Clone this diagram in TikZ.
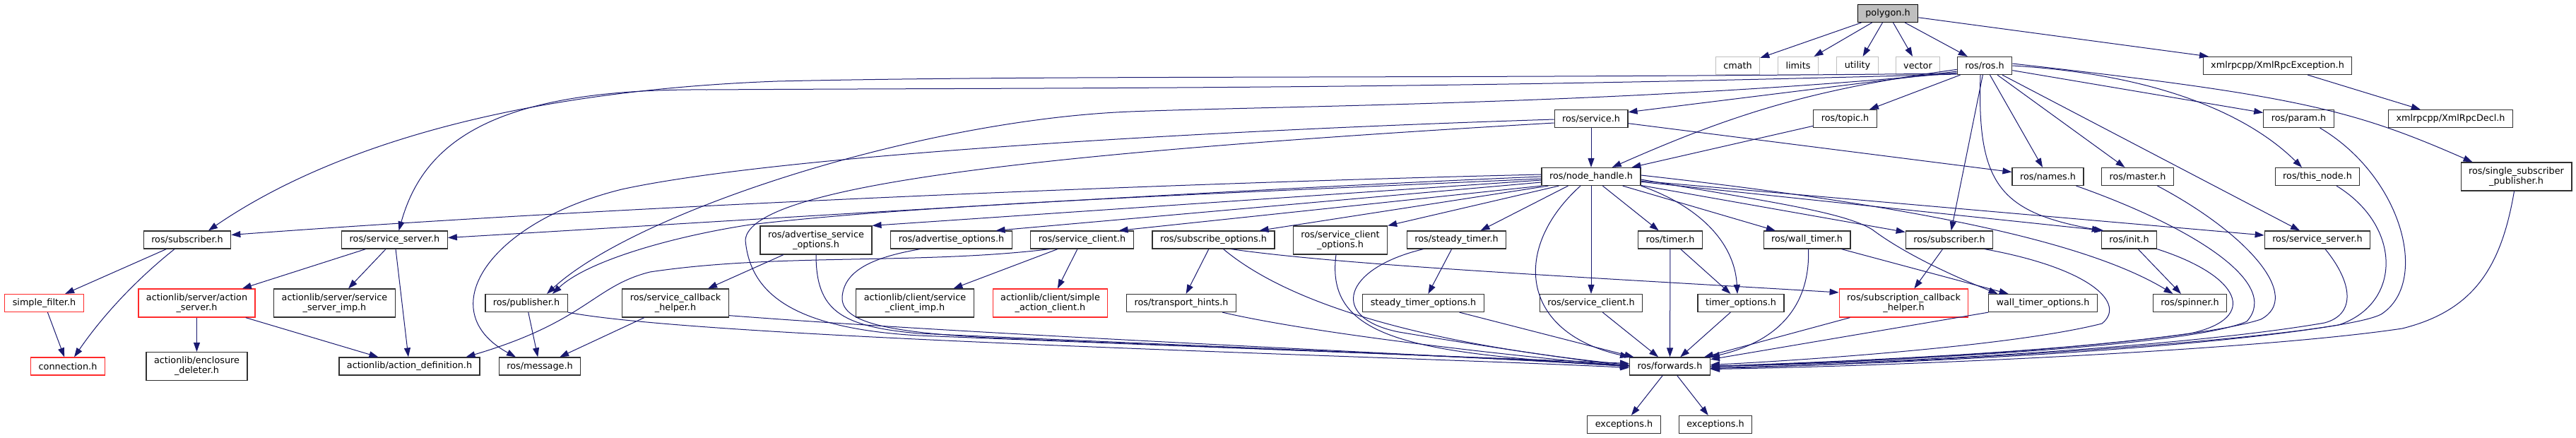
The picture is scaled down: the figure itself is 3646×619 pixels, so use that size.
\documentclass[tikz,border=0pt]{standalone}
\usepackage{fontspec}
\setmainfont{DejaVu Sans}
\usepackage{tikz}
\usetikzlibrary{arrows.meta}
\definecolor{edgeblue}{HTML}{191970}
\definecolor{boxline}{HTML}{303030}
\definecolor{missred}{HTML}{FF2A2A}
\colorlet{sysline}{black!25}

\begin{document}
\begin{tikzpicture}[x=1pt, y=-1pt,
    hdr/.style={draw=boxline, line width=1.2pt, fill=white, inner xsep=11pt, inner ysep=0pt,
      minimum height=25pt, align=center, font=\fontsize{12.8}{14}\selectfont},
    hdr2/.style={hdr, minimum height=40pt},
    sys/.style={hdr, draw=sysline},
    miss/.style={hdr, draw=missred},
    root/.style={hdr, draw=black, fill=black!25},
    inc/.style={-{Triangle[length=13pt,width=9pt]}, edgeblue, line width=1pt}]
    \fill[white] (0,0) rectangle (3646,619);
    \useasboundingbox (0,0) rectangle (3646,619);

    % top rows
    \node[root] (poly) at (2672,19) {polygon.h};
    \node[sys] (cmath) at (2459.5,93) {cmath};
    \node[sys] (limits) at (2545,93) {limits};
    \node[sys] (utility) at (2629,93) {utility};
    \node[sys] (vector) at (2714.5,93) {vector};
    \node[hdr] (ros) at (2809,93) {ros/ros.h};
    \node[hdr] (xrexc) at (3223.5,93) {xmlrpcpp/XmlRpcException.h};
    \node[hdr] (srv) at (2252,168) {ros/service.h};
    \node[hdr] (topic) at (2611.5,168) {ros/topic.h};
    \node[hdr] (param) at (3253.5,168) {ros/param.h};
    \node[hdr] (xrdecl) at (3468.5,168) {xmlrpcpp/XmlRpcDecl.h};
    \node[hdr] (nh) at (2252,250) {ros/node\_handle.h};
    \node[hdr] (names) at (2898.5,250) {ros/names.h};
    \node[hdr] (master) at (3025.5,250) {ros/master.h};
    \node[hdr] (thisnode) at (3280,250) {ros/this\_node.h};
    \node[hdr2] (ssp) at (3561.5,250) {ros/single\_subscriber\\\_publisher.h};

    % middle row
    \node[hdr] (subL) at (265,339.5) {ros/subscriber.h};
    \node[hdr] (ssL) at (558.5,339.5) {ros/service\_server.h};
    \node[hdr2] (aso) at (1155,340) {ros/advertise\_service\\\_options.h};
    \node[hdr] (ao) at (1346.5,339.5) {ros/advertise\_options.h};
    \node[hdr] (scU) at (1531.5,339.5) {ros/service\_client.h};
    \node[hdr] (so) at (1717.5,339.5) {ros/subscribe\_options.h};
    \node[hdr2] (sco) at (1897,340) {ros/service\_client\\\_options.h};
    \node[hdr] (st) at (2061.5,339.5) {ros/steady\_timer.h};
    \node[hdr] (timer) at (2364,339.5) {ros/timer.h};
    \node[hdr] (wt) at (2557.5,339.5) {ros/wall\_timer.h};
    \node[hdr] (subR) at (2759,339.5) {ros/subscriber.h};
    \node[hdr] (init) at (3013.5,339.5) {ros/init.h};
    \node[hdr] (ssR) at (3280,339.5) {ros/service\_server.h};

    % lower rows
    \node[miss] (sf) at (62.5,429) {simple\_filter.h};
    \node[miss, minimum height=40pt] (as) at (278.5,429) {actionlib/server/action\\\_server.h};
    \node[hdr2] (ssimp) at (473.5,429) {actionlib/server/service\\\_server\_imp.h};
    \node[hdr] (pub) at (745,429) {ros/publisher.h};
    \node[hdr2] (sch) at (956,429) {ros/service\_callback\\\_helper.h};
    \node[hdr2] (csimp) at (1295,429) {actionlib/client/service\\\_client\_imp.h};
    \node[miss, minimum height=40pt] (sac) at (1486.5,429) {actionlib/client/simple\\\_action\_client.h};
    \node[hdr] (th) at (1672,429) {ros/transport\_hints.h};
    \node[hdr] (stmo) at (2014.5,429) {steady\_timer\_options.h};
    \node[hdr] (scL) at (2252,429) {ros/service\_client.h};
    \node[hdr] (tmo) at (2464,429) {timer\_options.h};
    \node[miss, minimum height=40pt] (sbch) at (2694.5,429) {ros/subscription\_callback\\\_helper.h};
    \node[hdr] (wtmo) at (2891.5,429) {wall\_timer\_options.h};
    \node[hdr] (spin) at (3099.5,429) {ros/spinner.h};
    \node[miss] (conn) at (96,518.5) {connection.h};
    \node[hdr2] (ed) at (278.5,518.5) {actionlib/enclosure\\\_deleter.h};
    \node[hdr] (ad) at (579.5,518.5) {actionlib/action\_definition.h};
    \node[hdr] (msg) at (764,518.5) {ros/message.h};
    \node[hdr] (fwd) at (2363.5,518.5) {ros/forwards.h};
    \node[hdr] (ex1) at (2298.5,601) {exceptions.h};
    \node[hdr] (ex2) at (2428,601) {exceptions.h};

    % polygon.h
    \draw[inc] (poly) -- (cmath);
    \draw[inc] (poly) -- (limits);
    \draw[inc] (poly) -- (utility);
    \draw[inc] (poly) -- (vector);
    \draw[inc] (poly) -- (ros);
    \draw[inc] (poly) -- (xrexc);
    \draw[inc] (xrexc) -- (xrdecl);

    % ros/ros.h
    \draw[inc] ([yshift=-11pt]ros.west) .. controls (2000,112) and (1500,106) .. (1100,115) .. controls (700,130) and (450,220) .. ([xshift=30pt]subL.north);
    \draw[inc] ([yshift=-12pt]ros.west) .. controls (2000,127) and (1500,124) .. (1000,127) .. controls (700,125) and (600,200) .. ([xshift=6pt]ssL.north);
    \draw[inc] ([yshift=-10pt]ros.west) .. controls (2300,148) and (1800,150) .. (1600,158) .. controls (1300,170) and (900,300) .. ([xshift=29pt]pub.north);
    \draw[inc] ([yshift=-8pt]ros.west) -- (srv.10);
    \draw[inc] (ros) to[bend right=8] (nh);
    \draw[inc] (ros) -- (topic);
    \draw[inc] (ros) -- (names);
    \draw[inc] (ros) -- (master);
    \draw[inc] (ros) -- (subR);
    \draw[inc] ([xshift=-6pt]ros.south) .. controls (2798,260) and (2830,300) .. (init.north west);
    \draw[inc] (ros) -- (ssR);
    \draw[inc] (ros) -- (param);
    \draw[inc] (ros.east) .. controls (3050,105) and (3180,160) .. ([xshift=-22pt]thisnode.north);
    \draw[inc] ([yshift=3pt]ros.east) .. controls (3250,135) and (3330,155) .. ([xshift=-62pt]ssp.north);

    % ros/service.h and ros/topic.h
    \draw[inc] (srv) -- (nh);
    \draw[inc] (srv) -- (names);
    \draw[inc] (topic) -- (nh);
    \draw[inc] ([yshift=-1pt]srv.west) .. controls (1700,185) and (1100,220) .. (880,268) .. controls (690,315) and (610,440) .. ([xshift=-34pt]msg.north);
    \draw[inc] ([yshift=-6pt]srv.west) .. controls (1500,215) and (1060,260) .. (1055,340) .. controls (1062,420) and (1130,465) .. (1300,475) .. controls (1800,495) and (2150,508) .. ([yshift=4pt]fwd.west);

    % ros/node_handle.h
    \draw[inc] ([yshift=3pt]nh.west) .. controls (1700,258) and (900,290) .. ([yshift=7pt]subL.east);
    \draw[inc] (nh.west) .. controls (1700,270) and (1000,315) .. ([yshift=3pt]ssL.east);
    \draw[inc] ([yshift=-3pt]nh.west) .. controls (1700,275) and (1300,290) .. (1062,318) .. controls (950,335) and (830,370) .. ([xshift=37pt]pub.north);
    \draw[inc] ([yshift=-5pt]nh.west) -- (aso.north east);
    \draw[inc] ([yshift=-8pt]nh.west) -- ([xshift=63pt]ao.north);
    \draw[inc] (nh.south west) -- ([xshift=52pt]scU.north);
    \draw[inc] ([xshift=10pt]nh.south west) -- ([xshift=65pt]so.north);
    \draw[inc] ([xshift=25pt]nh.south west) -- (sco.north east);
    \draw[inc] ([xshift=38pt]nh.south west) -- ([xshift=34pt]st.north);
    \draw[inc] (nh) -- (scL);
    \draw[inc] ([xshift=-15pt]nh.south) .. controls (2140,350) and (2150,470) .. (fwd.north west);
    \draw[inc] (nh) -- (timer);
    \draw[inc] (nh.south east) .. controls (2400,290) and (2455,340) .. ([xshift=-5pt]tmo.north);
    \draw[inc] (nh) -- (wt);
    \draw[inc] (nh) -- (subR);
    \draw[inc] ([yshift=-4pt]nh.east) .. controls (2500,285) and (2610,300) .. (2650,325) .. controls (2690,355) and (2750,385) .. ([xshift=-64pt]wtmo.north);
    \draw[inc] (nh) -- (init.160);
    \draw[inc] (nh) -- (ssR);
    \draw[inc] ([yshift=2pt]nh.east) .. controls (2700,290) and (2950,340) .. ([xshift=-24pt]spin.north);

    % right part into ros/forwards.h
    \draw[inc] (subR) -- (sbch);
    \draw[inc] ([xshift=50pt]subR.south) .. controls (2960,380) and (3010,430) .. (2975,458) .. controls (2850,490) and (2550,510) .. ([yshift=2pt]fwd.east);
    \draw[inc] (wt) -- (wtmo);
    \draw[inc] ([xshift=2pt]wt.south) .. controls (2562,420) and (2530,480) .. (fwd.north east);
    \draw[inc] (timer) -- (tmo);
    \draw[inc] (timer) -- (fwd);
    \draw[inc] (tmo) -- (fwd);
    \draw[inc] (scL) -- (fwd);
    \draw[inc] (sbch) -- (fwd);
    \draw[inc] (wtmo) -- (fwd);
    \draw[inc] (init) -- (spin);
    \draw[inc] (init.south east) .. controls (3170,390) and (3200,450) .. (3100,472) .. controls (2900,500) and (2600,512) .. (fwd.east);
    \draw[inc] ([xshift=40pt]names.south) .. controls (3100,320) and (3230,400) .. (3180,455) .. controls (3100,490) and (2700,510) .. (fwd.east);
    \draw[inc] ([xshift=28pt]master.south) .. controls (3180,330) and (3260,420) .. (3200,452) .. controls (3100,485) and (2700,512) .. (fwd.east);
    \draw[inc] ([xshift=11pt]ssR.south) .. controls (3330,400) and (3335,445) .. (3290,457) .. controls (3100,490) and (2700,514) .. (fwd.east);
    \draw[inc] ([xshift=27pt]thisnode.south) .. controls (3400,320) and (3400,430) .. (3310,460) .. controls (3100,495) and (2700,515) .. ([yshift=-2pt]fwd.east);
    \draw[inc] ([xshift=30pt]param.south) .. controls (3400,250) and (3440,400) .. (3370,445) .. controls (3300,480) and (2700,515) .. ([yshift=-3pt]fwd.east);
    \draw[inc] ([xshift=-3pt]ssp.south) .. controls (3540,380) and (3500,440) .. (3400,465) .. controls (3200,495) and (2700,518) .. ([yshift=-4pt]fwd.east);

    % left part
    \draw[inc] (subL) -- (sf);
    \draw[inc] ([xshift=-18pt]subL.south) .. controls (200,390) and (150,440) .. ([xshift=9pt]conn.north);
    \draw[inc] (sf) -- (conn);
    \draw[inc] (ssL) -- (as);
    \draw[inc] (ssL) -- (ssimp);
    \draw[inc] (ssL) -- (ad);
    \draw[inc] (as) -- (ed);
    \draw[inc] (as) -- (ad);
    \draw[inc] (pub) -- (msg);
    \draw[inc] (pub.south east) .. controls (1000,480) and (2000,505) .. ([yshift=-2pt]fwd.west);
    \draw[inc] (sch) -- (msg);
    \draw[inc] ([yshift=3pt]sch.south east) .. controls (1400,475) and (2000,500) .. (fwd.west);
    \draw[inc] (aso) -- (sch);
    \draw[inc] (aso.south) .. controls (1155,440) and (1190,462) .. (1300,472) .. controls (1700,490) and (2100,505) .. (fwd.west);
    \draw[inc] ([xshift=-44pt]ao.south) .. controls (1230,365) and (1195,385) .. (1192,420) .. controls (1190,455) and (1250,470) .. (1400,478) .. controls (1800,495) and (2100,505) .. ([yshift=1pt]fwd.west);
    \draw[inc] (scU) -- (csimp);
    \draw[inc] (scU) -- (sac);
    \draw[inc] ([xshift=-46pt]scU.south) .. controls (1300,375) and (1100,358) .. (920,385) .. controls (840,405) and (830,455) .. ([xshift=80pt]ad.north);
    \draw[inc] (so) -- (th);
    \draw[inc] ([xshift=25pt]so.south) .. controls (1900,375) and (2200,390) .. ([yshift=15pt]sbch.west);
    \draw[inc] ([xshift=14pt]so.south) .. controls (1800,410) and (1950,480) .. ([yshift=2pt]fwd.west);
    \draw[inc] ([xshift=-6pt]sco.south) .. controls (1875,480) and (2000,500) .. (fwd.west);
    \draw[inc] ([xshift=-47pt]st.south) .. controls (1900,380) and (1880,450) .. (1980,470) .. controls (2100,490) and (2200,505) .. (fwd.west);
    \draw[inc] (st) -- (stmo);
    \draw[inc] (stmo) -- (fwd);
    \draw[inc] ([xshift=-20pt]th.south east) .. controls (1850,470) and (2100,500) .. (fwd.west);
    \draw[inc] (fwd) -- (ex1);
    \draw[inc] (fwd) -- (ex2);
\end{tikzpicture}
\end{document}
